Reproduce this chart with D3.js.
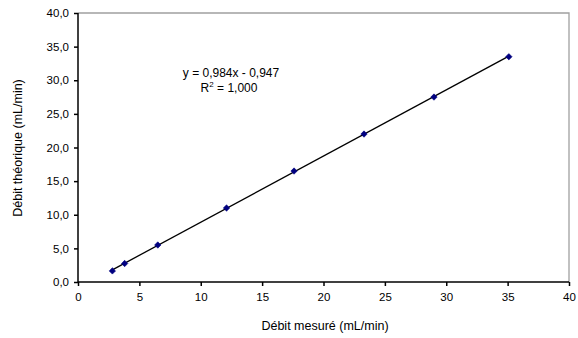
<!DOCTYPE html>
<html><head><meta charset="utf-8">
<script src="https://cdn.jsdelivr.net/npm/d3@7"></script>
<style>body{margin:0;background:#fff}svg{display:block}text{font-family:"Liberation Sans",Arial,sans-serif;fill:#000}</style>
</head><body><svg id="c" width="578" height="338"></svg>
<script>
const debitMesure = [2.8, 3.8, 6.5, 12.1, 17.6, 23.3, 29.0, 35.1];
const debitTheorique = [1.65, 2.75, 5.5, 11.0, 16.5, 22.0, 27.5, 33.5];
const xTicks = [0, 5, 10, 15, 20, 25, 30, 35, 40];
const yTicks = [0, 5, 10, 15, 20, 25, 30, 35, 40];
const slope = 0.984, intercept = -0.947;
const eqLines = ["y = 0,984x - 0,947", "R2 = 1,000"];

const svg = d3.select("#c");
const L = 78, R = 569, T = 13, B = 282;
const x = d3.scaleLinear().domain([0, 40]).range([L, R]);
const y = d3.scaleLinear().domain([0, 40]).range([B, T]);

svg.append("path").attr("d", `M${L},${T}H${R}V${B}`).attr("fill","none").attr("stroke","#a0a0a0").attr("stroke-width",1.3);

const fmt = d => d.toFixed(1).replace(".", ",");
const ya = svg.append("g").attr("transform", `translate(${L},0)`)
  .call(d3.axisLeft(y).tickValues(yTicks).tickFormat(fmt).tickSize(4).tickPadding(5));
const xa = svg.append("g").attr("transform", `translate(0,${B})`)
  .call(d3.axisBottom(x).tickValues(xTicks).tickFormat(d => d).tickSize(4).tickPadding(7));
[ya, xa].forEach(a => {
  a.selectAll("path,line").attr("stroke","#000").attr("stroke-width",1.5);
  a.select(".domain").attr("d", a === ya ? `M0,${T}V${B}` : `M${L},0H${R}`);
  a.selectAll("text").attr("font-size", 11.5).attr("font-family", '"Liberation Sans",Arial,sans-serif').attr("fill","#000");
});

const x0 = d3.min(debitMesure), x1 = d3.max(debitMesure);
svg.append("line").attr("x1", x(x0)).attr("y1", y(slope*x0+intercept))
  .attr("x2", x(x1)).attr("y2", y(slope*x1+intercept))
  .attr("stroke","#000").attr("stroke-width",1.3);

const sym = d3.symbol().type(d3.symbolDiamond2).size(26);
svg.selectAll("path.pt").data(debitMesure).join("path").attr("class","pt")
  .attr("d", sym).attr("transform", (d,i) => `translate(${x(d)},${y(debitTheorique[i])})`)
  .attr("fill","#000080").attr("stroke","#000080").attr("stroke-width",0.6);

svg.append("text").attr("x", 231).attr("y", 77).attr("text-anchor","middle").attr("font-size",12).text(eqLines[0]);
const r2 = svg.append("text").attr("x", 229).attr("y", 92).attr("text-anchor","middle").attr("font-size",12);
r2.append("tspan").text("R");
r2.append("tspan").attr("dy",-5).attr("font-size",8).text("2");
r2.append("tspan").attr("dy",5).text(" = 1,000");

svg.append("text").attr("x", 325).attr("y", 330).attr("text-anchor","middle").attr("font-size",12.5).text("Débit mesuré (mL/min)");
svg.append("text").attr("transform","translate(22,148) rotate(-90)").attr("text-anchor","middle").attr("font-size",12.5).text("Débit théorique (mL/min)");
</script></body></html>
